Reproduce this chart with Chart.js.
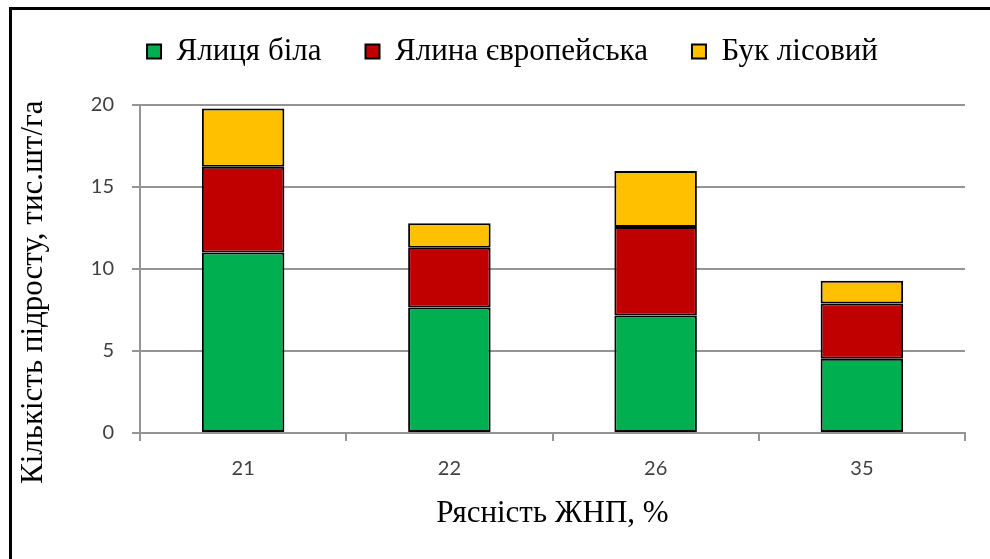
<!DOCTYPE html>
<html>
<head>
<meta charset="utf-8">
<script src="https://cdn.jsdelivr.net/npm/chart.js@4.4.1/dist/chart.umd.min.js"></script>
<style>
    html, body { margin: 0; padding: 0; background: #fff; }
    #wrap { position: relative; width: 990px; height: 559px; overflow: hidden; }
    #frame {
        position: absolute; left: 9px; top: 7px; width: 1000px; height: 600px;
        border-left: 3px solid #000; border-top: 3px solid #000; pointer-events: none;
    }
    canvas { position: absolute; left: 0; top: 0; }
</style>
</head>
<body>
<div id="wrap">
    <canvas id="chart" width="990" height="559"></canvas>
    <div id="frame"></div>
</div>
<script>
// Рясність ЖНП, % — категорії
const categories = ['21', '22', '26', '35'];

// Кількість підросту, тис.шт/га (значення шарів стовпчика)
const yalytsia = [11.0, 7.65, 7.16, 4.52];
const yalyna = [5.24, 3.64, 5.40, 3.37];
const buk = [3.55, 1.50, 3.41, 1.39];

const yTicks = [0, 5, 10, 15, 20];

const serif = "'Liberation Serif', 'Times New Roman', serif";
const sans = "Lato, 'Open Sans', sans-serif";
const gridColor = '#949494';

// легенда: фіксована висота і невеликий зсув вправо, як в Excel
const legendFit = {
    id: 'legendFit',
    beforeInit(chart) {
        const legend = chart.legend;
        const fit = legend.fit;
        legend.fit = function() {
            fit.call(this);
            this.height = 113;
            if (this.lineWidths && this.lineWidths.length) {
                this.lineWidths[0] -= 45;
            }
        };
    }
};

const ctx = document.getElementById('chart').getContext('2d');

const chart = new Chart(ctx, {
    type: 'bar',
    data: {
        labels: categories,
        datasets: [
            { label: 'Ялиця біла', data: yalytsia, backgroundColor: '#00B050' },
            { label: 'Ялина європейська', data: yalyna, backgroundColor: '#C00000' },
            { label: 'Бук лісовий', data: buk, backgroundColor: '#FFC000' }
        ].map(ds => Object.assign(ds, {
            borderColor: '#000',
            borderWidth: 2,
            borderSkipped: false,
            categoryPercentage: 1.0,
            barPercentage: 0.4
        }))
    },
    options: {
        responsive: false,
        animation: false,
        layout: {
            padding: { left: 15, right: 25, top: -8, bottom: 27 }
        },
        plugins: {
            tooltip: { enabled: false },
            legend: {
                position: 'top',
                labels: {
                    color: '#000',
                    font: { family: serif, size: 31 },
                    boxWidth: 14,
                    boxHeight: 14,
                    padding: 44
                }
            }
        },
        scales: {
            x: {
                stacked: true,
                border: { display: true, color: gridColor, width: 2 },
                grid: {
                    offset: true,
                    drawOnChartArea: false,
                    drawTicks: true,
                    tickLength: 8,
                    color: gridColor,
                    lineWidth: 2
                },
                ticks: {
                    color: '#404040',
                    font: { family: sans, size: 20 },
                    padding: 16
                },
                title: {
                    display: true,
                    text: 'Рясність ЖНП, %',
                    color: '#000',
                    font: { family: serif, size: 31 },
                    padding: { top: 8, bottom: 0 }
                },
                afterFit: function(scale) { scale.height = 99; }
            },
            y: {
                stacked: true,
                min: 0,
                max: 20,
                afterBuildTicks: function(scale) {
                    scale.ticks = yTicks.map(v => ({ value: v }));
                },
                border: { display: true, color: gridColor, width: 2 },
                grid: {
                    color: gridColor,
                    lineWidth: 2,
                    drawTicks: true,
                    tickLength: 8
                },
                ticks: {
                    color: '#404040',
                    font: { family: sans, size: 20 },
                    padding: 18
                },
                title: {
                    display: true,
                    text: 'Кількість підросту, тис.шт/га' + '\u00A0'.repeat(6),
                    color: '#000',
                    font: { family: serif, size: 31 },
                    padding: { top: 0, bottom: 4 }
                },
                afterFit: function(scale) { scale.width = 125; }
            }
        }
    },
    plugins: [legendFit]
});
</script>
</body>
</html>
